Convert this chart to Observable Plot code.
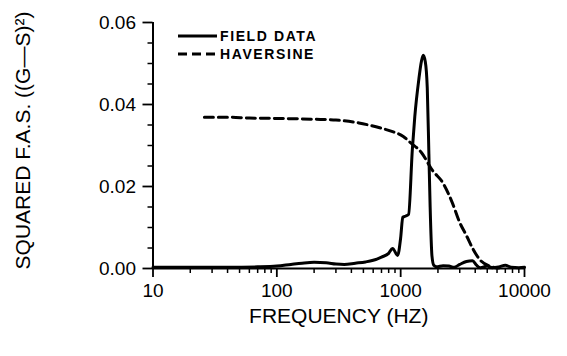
<!DOCTYPE html>
<html>
<head>
<meta charset="utf-8">
<script src="https://cdn.jsdelivr.net/npm/d3@7"></script>
<script src="https://cdn.jsdelivr.net/npm/@observablehq/plot@0.6"></script>
<style>
  html, body { margin: 0; padding: 0; background: #fff; }
  #wrap { position: relative; width: 567px; height: 356px; }
  #legend { position: absolute; left: 178px; top: 27px; font-family: "Liberation Sans", Arial, sans-serif; font-weight: bold; font-size: 14px; letter-spacing: 1.6px; color: #000; line-height: 18px; }
  #legend .row { display: flex; align-items: center; height: 18px; }
  #legend svg { margin-right: 2px; }
</style>
</head>
<body>
<div id="wrap"></div>
<script>
// Field data (solid line)
const fieldFreq = [10, 20, 40, 70, 100, 130, 160, 200, 250, 300, 350, 430, 520, 600, 700, 800, 860, 945, 1000, 1040, 1100, 1159, 1242, 1300, 1400, 1470, 1520, 1580, 1640, 1690, 1730, 1790, 1850, 1950, 2200, 2450, 2700, 3000, 3400, 3800, 4100, 4400, 5000, 5500, 6200, 7000, 7800, 9000, 10000];
const fieldVal  = [0.0003, 0.0003, 0.0003, 0.0004, 0.0006, 0.0010, 0.0013, 0.0015, 0.0014, 0.0011, 0.0010, 0.0013, 0.0016, 0.0020, 0.0028, 0.0037, 0.0049, 0.0032, 0.0075, 0.0125, 0.0128, 0.0132, 0.0290, 0.0370, 0.0460, 0.0505, 0.0520, 0.0505, 0.0440, 0.0280, 0.0150, 0.0030, 0.0008, 0.0004, 0.0007, 0.0006, 0.0003, 0.0010, 0.0017, 0.0019, 0.0008, 0.0002, 0.0006, 0.0002, 0.0004, 0.0008, 0.0003, 0.0002, 0.0003];

// Haversine (dashed line)
const haverFreq = [26, 40, 60, 100, 200, 300, 460, 570, 700, 860, 1050, 1200, 1470, 1800, 2200, 2600, 3000, 3400, 3800, 4400, 5200, 6200];
const haverVal  = [0.0369, 0.0369, 0.0367, 0.0366, 0.0364, 0.0362, 0.0355, 0.0349, 0.0342, 0.0334, 0.0322, 0.0307, 0.0283, 0.0240, 0.0208, 0.0162, 0.0112, 0.0080, 0.0050, 0.0020, 0.0006, 0.0001];

const xMajor = [10, 100, 1000, 10000];
const xMinor = [20,30,40,50,60,70,80,90,200,300,400,500,600,700,800,900,2000,3000,4000,5000,6000,7000,8000,9000];
const yMajor = [0, 0.02, 0.04, 0.06];
const yMinor = [0.005, 0.01, 0.015, 0.025, 0.03, 0.035, 0.045, 0.05, 0.055];

const xLabel = "FREQUENCY (HZ)";
const yLabel = "SQUARED F.A.S. ((G\u2014S)\u00B2)";
const seriesNames = ["FIELD DATA", "HAVERSINE"];

const field = fieldFreq.map((f, i) => ({f, v: fieldVal[i]}));
const haver = haverFreq.map((f, i) => ({f, v: haverVal[i]}));

const font = "'Liberation Sans', Arial, sans-serif";

const chart = Plot.plot({
  width: 567,
  height: 356,
  marginLeft: 152.5,
  marginRight: 43,
  marginTop: 22,
  marginBottom: 88,
  style: { fontFamily: font, background: "#fff", color: "#000", overflow: "visible" },
  x: { type: "log", domain: [10, 10000] },
  y: { domain: [0, 0.06] },
  marks: [
    Plot.axisX({ ticks: xMajor, tickFormat: d => String(d), tickSize: 9, tickPadding: 6, fontSize: 19, strokeWidth: 1.8, label: null, style: { letterSpacing: "1px" } }),
    Plot.axisX({ ticks: xMinor, tickFormat: () => "", tickSize: 5, strokeWidth: 1.5, label: null }),
    Plot.axisY({ ticks: yMajor, tickFormat: d3.format(".2f"), tickSize: 10, tickPadding: 7, fontSize: 19, strokeWidth: 1.8, label: null, style: { letterSpacing: "1px" } }),
    Plot.axisY({ ticks: yMinor, tickFormat: () => "", tickSize: 5, strokeWidth: 1.5, label: null }),
    Plot.ruleY([0], { strokeWidth: 2 }),
    Plot.ruleX([10], { y1: 0, y2: 0.06, strokeWidth: 2 }),
    Plot.line(haver, { x: "f", y: "v", stroke: "#000", strokeWidth: 3, strokeDasharray: "9,5", curve: "monotone-x" }),
    Plot.line(field, { x: "f", y: "v", stroke: "#000", strokeWidth: 3, curve: "monotone-x", strokeLinejoin: "round" }),
    Plot.text([xLabel], { frameAnchor: "bottom", lineAnchor: "bottom", textAnchor: "middle", dy: 54, fontSize: 21, fill: "#000" }),
    Plot.text([yLabel], { frameAnchor: "left", rotate: -90, textAnchor: "middle", lineAnchor: "middle", dx: -130, dy: -5, fontSize: 21, fill: "#000" })
  ]
});

const wrap = document.getElementById("wrap");
wrap.appendChild(chart);

const legend = document.createElement("div");
legend.id = "legend";
const dashes = ["", "9,5"];
legend.innerHTML = seriesNames.map((n, i) =>
  `<div class="row"><svg width="40" height="8"><line x1="0" x2="39" y1="4" y2="4" stroke="#000" stroke-width="3" ${dashes[i] ? `stroke-dasharray="${dashes[i]}"` : ""}/></svg><span>${n}</span></div>`
).join("");
wrap.appendChild(legend);
</script>
</body>
</html>
